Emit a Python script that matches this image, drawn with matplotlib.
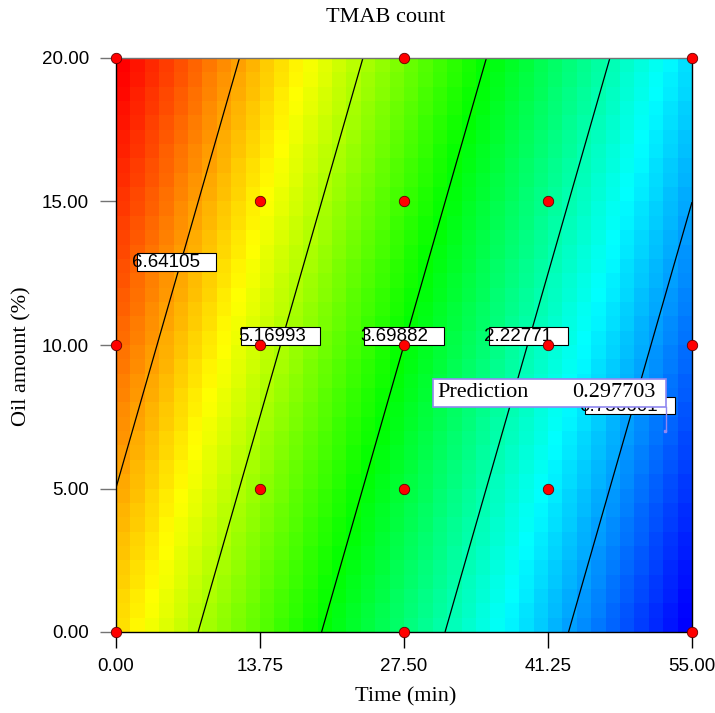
"""TMAB count contour plot - Time vs Oil amount (linear response surface)."""
import numpy as np
import matplotlib
matplotlib.use('Agg')
import matplotlib.pyplot as plt
from matplotlib.colors import LinearSegmentedColormap
from matplotlib.patches import Rectangle

# ---- data ----
time_range = [0.0, 55.0]
oil_range = [0.0, 20.0]
# fitted linear model: TMAB = b0 + b_time*Time + b_oil*Oil
b0, b_time, b_oil = 6.148, -0.12477, 0.0982
levels = [0.756601, 2.22771, 3.69882, 5.16993, 6.64105]
level_labels = ['0.756601', '2.22771', '3.69882', '5.16993', '6.64105']
design_time = [0, 27.5, 55, 13.75, 27.5, 41.25, 0, 13.75, 27.5, 41.25, 55,
               13.75, 27.5, 41.25, 0, 27.5, 55]
design_oil = [20, 20, 20, 15, 15, 15, 10, 10, 10, 10, 10, 5, 5, 5, 0, 0, 0]
xticks = [0, 13.75, 27.5, 41.25, 55]
yticks = [0, 5, 10, 15, 20]
pred_point = (52.42, 7.0)
pred_text = '0.297703'

SERIF = ['Liberation Serif', 'DejaVu Serif']
SANS = ['Liberation Sans', 'DejaVu Sans']

fig = plt.figure(figsize=(7.15, 7.13), dpi=100)
ax = fig.add_axes([116/715, 1-632/713, 576/715, 574/713])

def model(t, o):
    return b0 + b_time*t + b_oil*o

# blocky colour field, 40 x 40 cells
n = 40
te = np.linspace(*time_range, n+1)
oe = np.linspace(*oil_range, n+1)
tc, oc = (te[:-1]+te[1:])/2, (oe[:-1]+oe[1:])/2
TC, OC = np.meshgrid(tc, oc)
ZC = model(TC, OC)
cmap = LinearSegmentedColormap.from_list('de', ['#0000ff', '#00ffff', '#00ff00', '#ffff00', '#ff0000'])
ax.pcolormesh(te, oe, ZC, cmap=cmap, vmin=ZC.min(), vmax=ZC.max(), shading='flat', zorder=1)

# contour lines
tf = np.linspace(*time_range, 200)
of = np.linspace(*oil_range, 200)
TF, OF = np.meshgrid(tf, of)
ax.contour(TF, OF, model(TF, OF), levels=levels, colors='k', linewidths=0.9, zorder=2)

# contour labels (text, box left, box right, y centre) in data units
lab_pos = [(44.27, 44.75, 53.35, 7.89), (35.14, 35.62, 43.17, 10.30),
           (23.30, 23.68, 31.32, 10.30), (11.65, 11.94, 19.48, 10.30),
           (1.53, 2.01, 9.55, 12.89)]
for txt, (xt, x0, x1, yc) in zip(level_labels, lab_pos):
    ax.add_patch(Rectangle((x0, yc-0.31), x1-x0, 0.62, fc='white', ec='k', lw=0.8, zorder=4))
    ax.text(xt, yc-0.02, txt, family=SANS, fontsize=13.5, ha='left', va='center', zorder=5)

# design points
ax.plot(design_time, design_oil, 'o', ms=7.5, mfc='#ff0000', mec='#600000', mew=0.6,
        clip_on=False, zorder=6)

# prediction flag
pc = '#9088f0'
ax.add_patch(Rectangle((30.27, 7.84), 22.25, 0.98, fc='white', ec=pc, lw=1.2, zorder=7))
ax.plot([52.52, 52.52], [7.84, pred_point[1]], color=pc, lw=1.0, zorder=7)
ax.plot(*pred_point, 's', ms=2, color=pc, zorder=7)
ax.text(30.65, 8.33, 'Prediction', family=SERIF, fontsize=16, ha='left', va='center', zorder=8)
ax.text(51.5, 8.33, pred_text, family=SERIF, fontsize=16, ha='right', va='center', zorder=8)

ax.set_xlim(*time_range)
ax.set_ylim(*oil_range)
ax.set_xticks(xticks)
ax.set_yticks(yticks)
ax.set_xticklabels(['%.2f' % v for v in xticks], family=SANS, fontsize=13.5)
ax.set_yticklabels(['%.2f' % v for v in yticks], family=SANS, fontsize=13.5)
ax.tick_params(axis='x', length=11.5, width=1, color='k', pad=7)
ax.tick_params(axis='y', length=11.5, width=1, color='0.45', pad=8)
for s in ax.spines.values():
    s.set_linewidth(1.0)
    s.set_zorder(3)
ax.spines['top'].set_color('0.45')

fig.text(386/715, 1-18/713, 'TMAB count', family=SERIF, fontsize=16, ha='center', va='center')
fig.text(406/715, 1-697/713, 'Time (min)', family=SERIF, fontsize=16, ha='center', va='center')
fig.text(22/715, 1-356/713, 'Oil amount (%)', family=SERIF, fontsize=16, ha='center',
         va='center', rotation=90)

fig.savefig('out.png', dpi=100)
